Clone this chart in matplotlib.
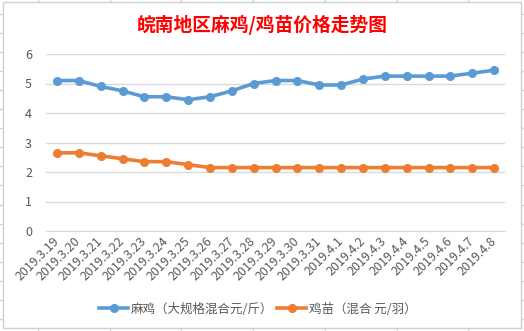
import matplotlib
matplotlib.use("Agg")
import matplotlib.pyplot as plt
from matplotlib.lines import Line2D
from matplotlib.patches import Rectangle

plt.rcParams['font.family'] = ['Noto Sans CJK SC', 'DejaVu Sans']

# ─── DATA ──────────────────────────────────────────────────────────────────────
dates = ["2019.3.19", "2019.3.20", "2019.3.21", "2019.3.22", "2019.3.23", "2019.3.24",
         "2019.3.25", "2019.3.26", "2019.3.27", "2019.3.28", "2019.3.29", "2019.3.30",
         "2019.3.31", "2019.4.1", "2019.4.2", "2019.4.3", "2019.4.4", "2019.4.5",
         "2019.4.6", "2019.4.7", "2019.4.8"]
maji = [5.1, 5.1, 4.9, 4.75, 4.55, 4.55, 4.45, 4.55, 4.75, 5.0, 5.1,
        5.1, 4.95, 4.95, 5.15, 5.25, 5.25, 5.25, 5.25, 5.35, 5.45]
jimiao = [2.65, 2.65, 2.55, 2.45, 2.35, 2.35, 2.25, 2.15, 2.15, 2.15, 2.15,
          2.15, 2.15, 2.15, 2.15, 2.15, 2.15, 2.15, 2.15, 2.15, 2.15]
yticks = [0, 1, 2, 3, 4, 5, 6]
title = "皖南地区麻鸡/鸡苗价格走势图"
label_maji = "麻鸡（大规格混合元/斤）"
label_jimiao = "鸡苗（混合 元/羽）"

W, H = 524, 331
BLUE = "#5B9BD5"
ORANGE = "#ED7D31"
GRAY_TXT = "#595959"

fig = plt.figure(figsize=(W / 100, H / 100), dpi=100, facecolor="white")


def fx(px):
    return px / W


def fy(py):
    return 1 - py / H


# ── spreadsheet cells behind the chart ──
for k in range(7):
    x = 37.7 + 71.8 * k
    fig.add_artist(Line2D([fx(x), fx(x)], [0, 1], color="#d4d4d4", lw=1, zorder=0))
for k in range(17):
    y = 14 + 19.05 * k
    fig.add_artist(Line2D([0, 1], [fy(y), fy(y)], color="#d4d4d4", lw=1, zorder=0))

# chart area box
fig.add_artist(Rectangle((fx(3), fy(328)), fx(521) - fx(3), fy(2) - fy(328),
                         transform=fig.transFigure, facecolor="white",
                         edgecolor="#d0d0d0", lw=1, zorder=1))

ax = fig.add_axes([fx(46), fy(231), fx(505) - fx(46), fy(54) - fy(231)], zorder=2)
ax.patch.set_alpha(0)

xs = list(range(len(dates)))
ax.plot(xs, maji, color=BLUE, lw=2.6, marker="o", ms=5.5, label=label_maji, zorder=3)
ax.plot(xs, jimiao, color=ORANGE, lw=2.6, marker="o", ms=5.5, label=label_jimiao, zorder=3)

ax.set_ylim(0, 6)
ax.set_xlim(-0.5, len(dates) - 0.5)
ax.set_yticks(yticks)
ax.set_xticks(xs)
ax.set_xticklabels(dates, rotation=45, ha="right", va="center", rotation_mode="anchor",
                   fontsize=9, color=GRAY_TXT)
ax.tick_params(axis="y", length=0, pad=10, labelsize=9, labelcolor=GRAY_TXT)
ax.tick_params(axis="x", length=0, pad=6)
ax.grid(axis="y", color="#d9d9d9", lw=1, zorder=0)
for spine in ax.spines.values():
    spine.set_visible(False)
ax.spines["bottom"].set_visible(True)
ax.spines["bottom"].set_color("#d9d9d9")

fig.text(0.5, fy(25), title, ha="center", va="center", color="#FF0000",
         fontsize=13.5, fontweight="bold", zorder=3)

fig.legend(loc="center", bbox_to_anchor=(fx(258), fy(309)), ncol=2, frameon=False,
           fontsize=9, labelcolor=GRAY_TXT, handlelength=2.3, handletextpad=0.25,
           columnspacing=0.3)

fig.savefig("out.png", dpi=100, facecolor="white")
